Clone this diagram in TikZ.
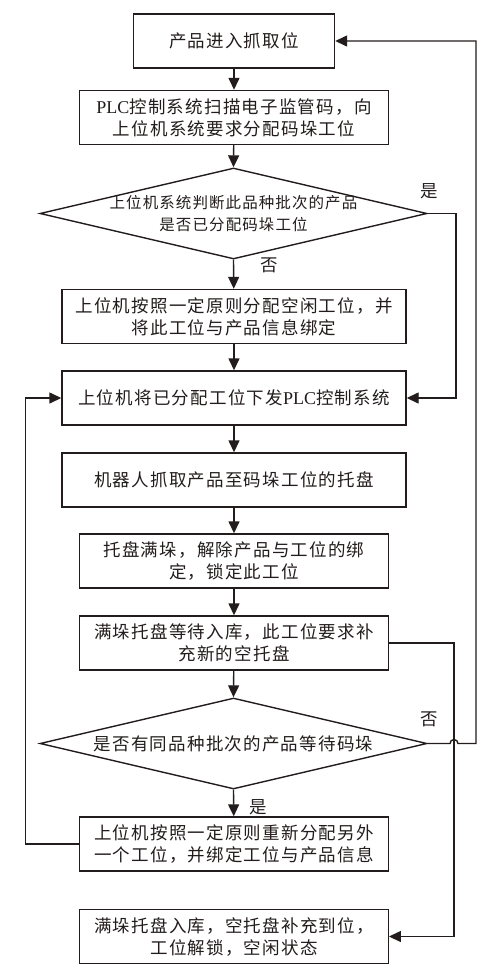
\documentclass[tikz,border=0pt]{standalone}
\usepackage{fontspec}
\setmainfont{Noto Sans CJK SC}[LetterSpace=7]
\newfontfamily\latin{Liberation Serif}
\newcommand{\plc}{{\latin\fontsize{18}{22}\selectfont PLC}}
\usetikzlibrary{arrows.meta,shapes.geometric}
\definecolor{ink}{RGB}{35,28,28}
\begin{document}
\begin{tikzpicture}[x=1pt,y=-1pt, line width=1.4pt, draw=ink, text=ink,
  >={Triangle[length=12pt,width=11pt]},
  box/.style={draw=ink, rectangle, inner sep=0pt, minimum height=54pt, align=center,
    font=\fontsize{17.5}{22}\selectfont},
  dia/.style={draw=ink, diamond, inner sep=0pt, minimum width=387pt, minimum height=91pt},
  diatext/.style={inner sep=0pt, align=center},
  lab/.style={inner sep=0pt, font=\fontsize{17.5}{20}\selectfont},
  conn/.style={draw=ink, line width=1.4pt}]
\useasboundingbox (0,0) rectangle (500,979);

\node[box, minimum width=201pt] (b1) at (234,41) {产品进入抓取位};
\node[box, minimum width=308.5pt] (b2) at (234,117.5) {\plc 控制系统扫描电子监管码，向\\上位机系统要求分配码垛工位};
\node[dia] (d1) at (233.5,213.5) {};
\node[diatext, font=\fontsize{15.5}{22}\selectfont] (t1) at (d1.center) {上位机系统判断此品种批次的产品\\是否已分配码垛工位};
\node[box, minimum width=344pt] (b3) at (234,316.5) {上位机按照一定原则分配空闲工位，并\\将此工位与产品信息绑定};
\node[box, minimum width=344pt] (b4) at (234,398) {上位机将已分配工位下发\plc 控制系统};
\node[box, minimum width=344pt] (b5) at (234,480) {机器人抓取产品至码垛工位的托盘};
\node[box, minimum width=308.5pt] (b6) at (234,561) {托盘满垛，解除产品与工位的绑\\定，锁定此工位};
\node[box, minimum width=308.5pt] (b7) at (234,643) {满垛托盘等待入库，此工位要求补\\充新的空托盘};
\node[dia] (d2) at (233.5,743.5) {};
\node[diatext, font=\fontsize{17.5}{22}\selectfont] (t2) at (d2.center) {是否有同品种批次的产品等待码垛};
\node[box, minimum width=308.5pt] (b8) at (234,844) {上位机按照一定原则重新分配另外\\一个工位，并绑定工位与产品信息};
\node[box, minimum width=308.5pt] (b10) at (234,936.5) {满垛托盘入库，空托盘补充到位，\\工位解锁，空闲状态};

\node[lab] (l1) at (429,191) {是};
\node[lab] (l2) at (269,265) {否};
\node[lab] (l3) at (429,719) {否};
\node[lab] (l4) at (258,807) {是};

\coordinate (xr1) at (456,0);
\coordinate (xr2) at (454,0);
\coordinate (xr3) at (476,0);
\coordinate (xl) at (25.7,0);

\draw[conn,->] (b1) -- (b2);
\draw[conn,->] (b2) -- (d1.north);
\draw[conn,->] (d1.south) -- (b3);
\draw[conn,->] (b3) -- (b4);
\draw[conn,->] (b4) -- (b5);
\draw[conn,->] (b5) -- (b6);
\draw[conn,->] (b6) -- (b7);
\draw[conn,->] (b7) -- (d2.north);
\draw[conn,->] (d2.south) -- (b8);

\draw[conn,->] (d1.east) -- (d1.east -| xr1) -- (xr1 |- b4.east) -- (b4.east);
\draw[conn,->] (b7.east) -- (b7.east -| xr2) -- (xr2 |- b10.east) -- (b10.east);
\coordinate (h1) at ([xshift=-4pt]d2.east -| xr2);
\draw[conn,->] (d2.east) -- (h1) arc (180:360:4) -- (d2.east -| xr3) -- (xr3 |- b1.east) -- (b1.east);
\draw[conn,->] (b8.west) -- (b8.west -| xl) -- (xl |- b4.west) -- (b4.west);
\end{tikzpicture}
\end{document}
